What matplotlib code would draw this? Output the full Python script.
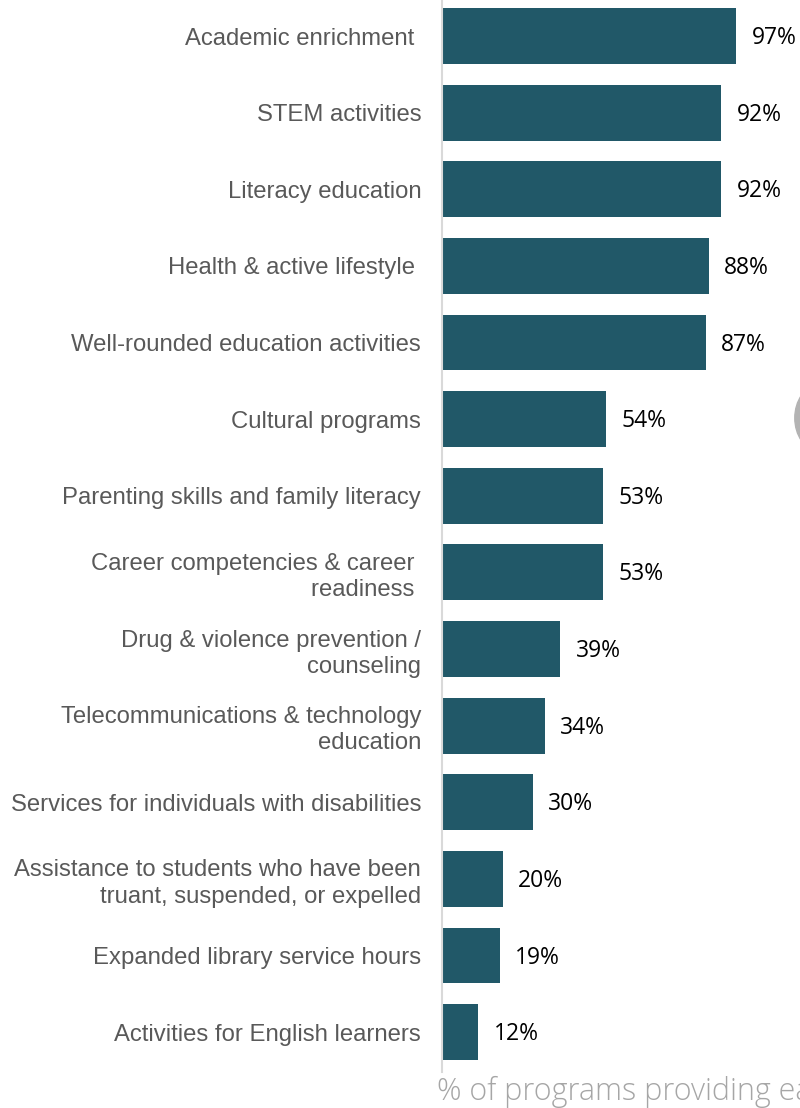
import matplotlib.pyplot as plt
from matplotlib.patches import Circle

categories = [
    "Academic enrichment ",
    "STEM activities",
    "Literacy education",
    "Health & active lifestyle ",
    "Well-rounded education activities",
    "Cultural programs",
    "Parenting skills and family literacy",
    "Career competencies & career \nreadiness ",
    "Drug & violence prevention /\ncounseling",
    "Telecommunications & technology\neducation",
    "Services for individuals with disabilities",
    "Assistance to students who have been\ntruant, suspended, or expelled",
    "Expanded library service hours",
    "Activities for English learners",
]
percent = [97, 92, 92, 88, 87, 54, 53, 53, 39, 34, 30, 20, 19, 12]

bar_color = "#215868"
label_color = "#595959"

fig = plt.figure(figsize=(8.0, 11.08), dpi=100)
ax = fig.add_axes([0.5525, 0.0325, 0.4475, 0.9675])

y = list(range(len(categories)))
ax.barh(y, percent, height=0.73, color=bar_color)

for yi, v in zip(y, percent):
    ax.annotate(f"{v}%", (v, yi), xytext=(11, -1.5), textcoords="offset points",
                va="center", ha="left", fontsize=16.5, family="Open Sans",
                color="black")

ax.set_xlim(0, 118)
ax.set_ylim(13.52, -0.47)
ax.set_yticks(y)
ax.set_yticklabels(categories, fontsize=17.2, family=["Liberation Sans"],
                   color=label_color, linespacing=1.25)
ax.tick_params(axis="y", length=0, pad=15)
ax.set_xticks([])

for side in ["top", "right", "bottom"]:
    ax.spines[side].set_visible(False)
ax.spines["left"].set_color("#d9d9d9")
ax.spines["left"].set_linewidth(1.5)

# axis caption runs past the right edge
fig.text(437 / 800, 1 - 1092 / 1108, "% of programs providing each activity",
         fontsize=22, family="Open Sans", fontweight="light",
         color="#a6a6a6", ha="left", va="center")

fig.patches.append(Circle((818 / 800, 1 - 418 / 1108), 0.029,
                          transform=fig.transFigure, color="#b3b3b3",
                          clip_on=False))

fig.savefig("out.png", dpi=100)
